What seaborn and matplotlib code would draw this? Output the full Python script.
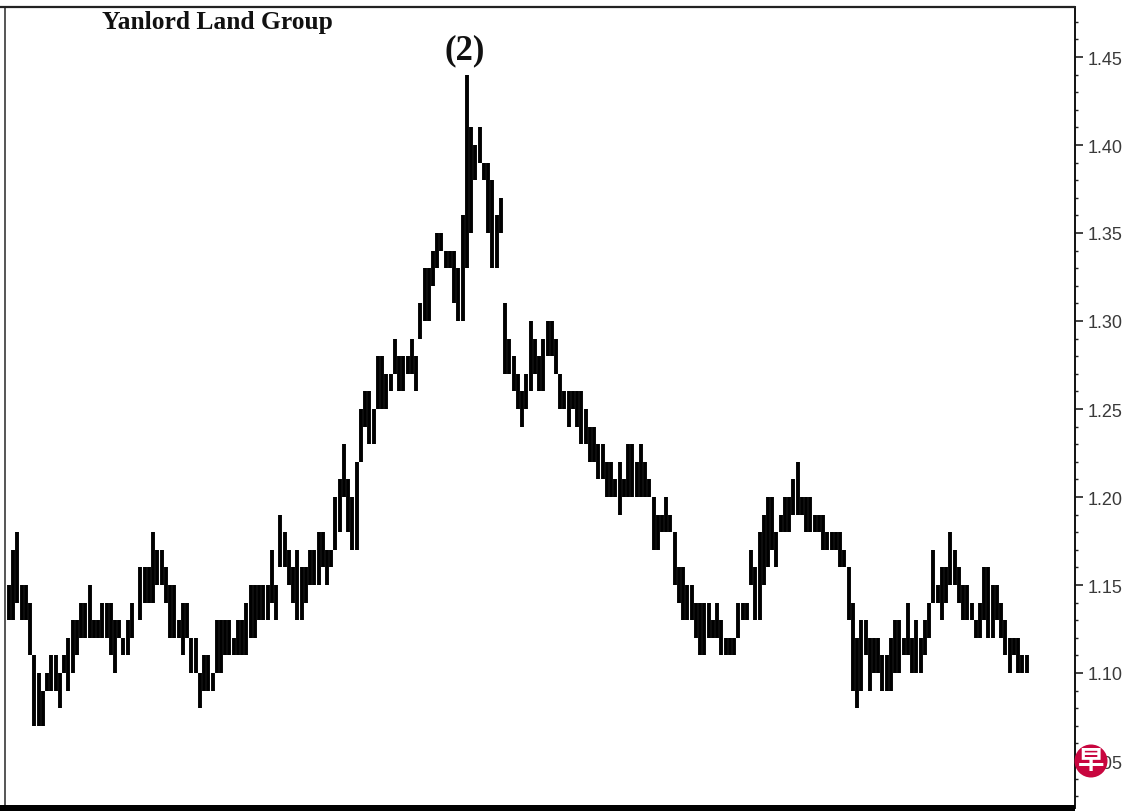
import pandas as pd
import numpy as np
import matplotlib
matplotlib.use("Agg")
import matplotlib.pyplot as plt
from matplotlib.patches import Circle, Rectangle
from matplotlib.lines import Line2D
from matplotlib.ticker import MultipleLocator, FormatStrFormatter
import seaborn as sns

# daily high / low, one entry per bar
highs = [
    1.15, 1.17, 1.18, 1.15, 1.15, 1.14, 1.11, 1.10, 1.09, 1.10, 1.11, 1.11, 1.10, 1.11, 1.12, 1.13, 1.13,
    1.14, 1.14, 1.15, 1.13, 1.13, 1.14, 1.14, 1.14, 1.13, 1.13, 1.12, 1.13, 1.14, 1.13, 1.16, 1.16, 1.16,
    1.18, 1.17, 1.17, 1.16, 1.15, 1.15, 1.13, 1.14, 1.14, 1.12, 1.12, 1.10, 1.11, 1.11, 1.10, 1.13, 1.13,
    1.13, 1.13, 1.12, 1.13, 1.13, 1.14, 1.15, 1.15, 1.15, 1.15, 1.15, 1.17, 1.15, 1.19, 1.18, 1.17, 1.16,
    1.17, 1.16, 1.16, 1.17, 1.17, 1.18, 1.18, 1.17, 1.17, 1.20, 1.21, 1.23, 1.21, 1.20, 1.22, 1.25, 1.26,
    1.26, 1.25, 1.28, 1.28, 1.27, 1.27, 1.29, 1.28, 1.28, 1.28, 1.29, 1.28, 1.31, 1.33, 1.33, 1.34, 1.35,
    1.35, 1.34, 1.34, 1.34, 1.33, 1.36, 1.44, 1.41, 1.40, 1.41, 1.39, 1.39, 1.38, 1.36, 1.37,
    1.31, 1.29, 1.28, 1.27, 1.26, 1.27, 1.30, 1.29, 1.28, 1.29, 1.30, 1.30, 1.29, 1.27, 1.26, 1.26, 1.26,
    1.26, 1.26, 1.25, 1.24, 1.24, 1.23, 1.23, 1.22, 1.22, 1.21, 1.22, 1.21, 1.23, 1.23, 1.22, 1.23, 1.22,
    1.21, 1.20, 1.19, 1.19, 1.20, 1.19, 1.18, 1.16, 1.16, 1.15, 1.15, 1.14, 1.14, 1.14, 1.14, 1.13, 1.14,
    1.13, 1.12, 1.12, 1.12, 1.14, 1.14, 1.14, 1.17, 1.16, 1.18, 1.19, 1.20, 1.20, 1.18, 1.19,
    1.20, 1.20, 1.21, 1.22, 1.20, 1.20, 1.20, 1.19, 1.19, 1.19, 1.18, 1.18, 1.18, 1.18, 1.17, 1.16, 1.14,
    1.12, 1.13, 1.13, 1.12, 1.12, 1.12, 1.11, 1.11, 1.12, 1.13, 1.13, 1.12, 1.14, 1.12, 1.13, 1.12, 1.13,
    1.14, 1.17, 1.15, 1.16, 1.16, 1.18, 1.17, 1.16, 1.15, 1.15, 1.14, 1.13, 1.14, 1.16, 1.16, 1.15, 1.15,
    1.14, 1.13, 1.12, 1.12, 1.12, 1.11, 1.11,
]
lows = [
    1.13, 1.13, 1.14, 1.13, 1.13, 1.11, 1.07, 1.07, 1.07, 1.09, 1.09, 1.09, 1.08, 1.10, 1.09, 1.10, 1.11,
    1.12, 1.12, 1.12, 1.12, 1.12, 1.12, 1.12, 1.11, 1.10, 1.12, 1.11, 1.11, 1.12, 1.13, 1.13, 1.14, 1.14,
    1.14, 1.15, 1.15, 1.14, 1.12, 1.12, 1.12, 1.11, 1.12, 1.10, 1.10, 1.08, 1.09, 1.09, 1.09, 1.10, 1.10,
    1.11, 1.11, 1.11, 1.11, 1.11, 1.11, 1.12, 1.12, 1.13, 1.13, 1.13, 1.14, 1.13, 1.16, 1.16, 1.15, 1.14,
    1.13, 1.13, 1.14, 1.15, 1.15, 1.15, 1.16, 1.15, 1.16, 1.17, 1.18, 1.20, 1.18, 1.17, 1.17, 1.22, 1.24,
    1.23, 1.23, 1.25, 1.25, 1.25, 1.26, 1.27, 1.26, 1.26, 1.27, 1.27, 1.26, 1.29, 1.30, 1.30, 1.32, 1.33,
    1.34, 1.33, 1.33, 1.31, 1.30, 1.30, 1.33, 1.35, 1.38, 1.39, 1.38, 1.35, 1.33, 1.33, 1.35,
    1.27, 1.27, 1.26, 1.25, 1.24, 1.25, 1.26, 1.27, 1.26, 1.26, 1.28, 1.28, 1.27, 1.25, 1.25, 1.24, 1.25,
    1.24, 1.23, 1.23, 1.22, 1.22, 1.21, 1.21, 1.20, 1.20, 1.20, 1.19, 1.20, 1.20, 1.20, 1.20, 1.20, 1.20,
    1.20, 1.17, 1.17, 1.18, 1.18, 1.18, 1.15, 1.14, 1.13, 1.13, 1.13, 1.12, 1.11, 1.11, 1.12, 1.12, 1.12,
    1.11, 1.11, 1.11, 1.11, 1.12, 1.13, 1.13, 1.15, 1.13, 1.13, 1.15, 1.16, 1.17, 1.16, 1.18,
    1.18, 1.18, 1.19, 1.19, 1.19, 1.18, 1.18, 1.18, 1.18, 1.17, 1.17, 1.17, 1.17, 1.16, 1.16, 1.13, 1.09,
    1.08, 1.09, 1.11, 1.09, 1.10, 1.10, 1.09, 1.09, 1.09, 1.10, 1.10, 1.11, 1.11, 1.10, 1.10, 1.10, 1.11,
    1.12, 1.14, 1.14, 1.13, 1.14, 1.15, 1.15, 1.14, 1.13, 1.13, 1.13, 1.12, 1.12, 1.13, 1.12, 1.12, 1.13,
    1.12, 1.11, 1.10, 1.11, 1.10, 1.10, 1.10,
]
tick_prices = [1.05, 1.10, 1.15, 1.20, 1.25, 1.30, 1.35, 1.40, 1.45]

n_bars = min(len(highs), len(lows))
bars = pd.DataFrame({
    "bar": np.repeat(np.arange(n_bars), 2),
    "price": np.column_stack([lows[:n_bars], highs[:n_bars]]).ravel(),
})

sns.set_style("white")
W, H = 1140, 812
fig = plt.figure(figsize=(W / 100, H / 100), dpi=100)
left, right, top, bottom = 5, 1075, 8, 809
ax = fig.add_axes([left / W, 1 - bottom / H, (right - left) / W, (bottom - top) / H])

# one vertical stroke per bar, units keeps them separate
sns.lineplot(data=bars, x="bar", y="price", units="bar", estimator=None, color="black",
             linewidth=2.8, solid_capstyle="butt", legend=False, ax=ax)

ax.set_xlim(-0.94, 251.4)
ax.set_ylim(1.10 + (674 - bottom) / 1760, 1.10 + (674 - top) / 1760)
ax.set_xlabel("")
ax.set_ylabel("")
ax.set_xticks([])

ax.yaxis.tick_right()
ax.set_yticks(tick_prices)
ax.yaxis.set_major_formatter(FormatStrFormatter("%.2f"))
ax.yaxis.set_minor_locator(MultipleLocator(0.01))
ax.tick_params(axis="y", which="major", right=True, length=6, width=1.2, color="#222222", pad=3,
               labelsize=13, labelcolor="#3a3a3a")
ax.tick_params(axis="y", which="minor", right=True, length=2.5, width=1, color="#222222")
for lab in ax.get_yticklabels():
    lab.set_family("Liberation Sans")

ax.spines["left"].set_color("#555555")
ax.spines["left"].set_linewidth(1.4)
ax.spines["right"].set_color("#111111")
ax.spines["right"].set_linewidth(1.4)
ax.spines["top"].set_visible(False)
ax.spines["bottom"].set_visible(False)

# frame bars run to the image edge
fig.add_artist(Line2D([0, right / W], [1 - top / H] * 2, color="#222222", lw=1.6))
fig.add_artist(Rectangle((0, 0), right / W, 6 / H, transform=fig.transFigure, color="black", lw=0))

fig.text(102 / W, 1 - 23 / H, "Yanlord Land Group", family="Liberation Serif", weight="bold",
         fontsize=18.4, color="#111111", va="center", ha="left")
fig.text(465 / W, 1 - 51 / H, "(2)", family="Liberation Serif", weight="bold",
         fontsize=25, color="#111111", va="center", ha="center")

# newspaper badge over the 1.05 label
badge = Circle((1091 / 100, (H - 762) / 100), 0.165, transform=fig.dpi_scale_trans,
               facecolor="#c8063f", edgecolor="none", zorder=10)
fig.add_artist(badge)
fig.text(1091 / W, 1 - 762 / H, "早", family=["Noto Sans CJK SC", "DejaVu Sans"], weight="bold",
         fontsize=19, color="white", ha="center", va="center", zorder=11)

fig.savefig("out.png", dpi=100)
